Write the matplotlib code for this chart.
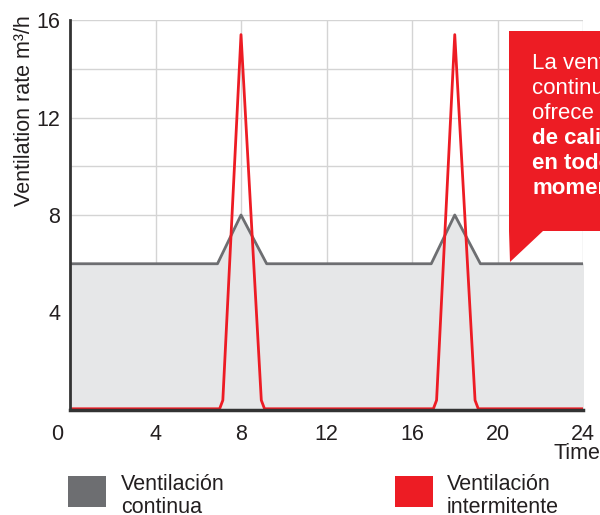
import matplotlib
matplotlib.use("Agg")
import matplotlib.pyplot as plt
import matplotlib.transforms as mtransforms
from matplotlib.patches import Polygon, Rectangle

plt.rcParams['font.family'] = ['Liberation Sans', 'DejaVu Sans']

# datos
cont_hours = [0, 6.9, 8.0, 9.2, 16.9, 18.0, 19.2, 24]
cont_rate = [6, 6, 8, 6, 6, 8, 6, 6]

int_hours = [0, 7.0, 7.15, 8.0, 8.95, 9.1, 17.0, 17.15, 18.0, 18.95, 19.1, 24]
int_rate = [0.05, 0.05, 0.4, 15.4, 0.4, 0.05, 0.05, 0.4, 15.4, 0.4, 0.05, 0.05]

xticks = [0, 4, 8, 12, 16, 20, 24]
yticks = [4, 8, 12, 16]

callout_lines = ["La ventilación", "continua", "ofrece aire",
                 "de calidad", "en todo", "momento"]
callout_bold = [False, False, False, True, True, True]

RED = '#ed1c24'
GREY = '#6d6e71'
FILL = '#e6e7e8'
TXT = '#231f20'
FS = 15.5

W, H = 600, 515
fig = plt.figure(figsize=(W / 100, H / 100), dpi=100)


def px(x, y):
    # píxel -> fracción de figura
    return (x / W, 1 - y / H)


ax = fig.add_axes([70 / W, 1 - 410 / H, 513 / W, 390 / H])
ax.set_xlim(0, 24)
ax.set_ylim(0, 16)

ax.fill_between(cont_hours, cont_rate, 0, color=FILL, zorder=1)
ax.plot(cont_hours, cont_rate, color=GREY, lw=2, zorder=3)
ax.plot(int_hours, int_rate, color=RED, lw=2, zorder=4, solid_joinstyle='round')

ax.set_xticks(xticks)
ax.set_yticks(yticks)
ax.set_yticks([2, 6, 10, 14], minor=True)
ax.grid(True, which='both', color='#d4d4d4', lw=1, zorder=0)
ax.set_axisbelow(True)
ax.tick_params(which='both', length=0, labelsize=FS, colors=TXT)
ax.tick_params(axis='x', pad=10)
ax.tick_params(axis='y', pad=7)
for s in ['top', 'right']:
    ax.spines[s].set_visible(False)
for s in ['left', 'bottom']:
    ax.spines[s].set_color('#333333')
    ax.spines[s].set_zorder(5)
ax.spines['left'].set_linewidth(2)
ax.spines['bottom'].set_linewidth(2.5)

# el "0" del eje x está desplazado a la izquierda
lbl0 = ax.get_xticklabels()[0]
lbl0.set_transform(lbl0.get_transform() +
                   mtransforms.ScaledTranslation(-13 / 100, 0, fig.dpi_scale_trans))

fig.text(*px(25, 15), "Ventilation rate m³/h", rotation=90, ha='center',
         va='top', fontsize=FS, color=TXT)
fig.text(*px(553, 459), "Time", ha='left', va='baseline', fontsize=FS, color=TXT)

# bocadillo rojo
pts = [px(509, 31), px(640, 31), px(640, 231), px(543, 231), px(510, 262), px(509, 231)]
fig.patches.append(Polygon(pts, closed=True, transform=fig.transFigure,
                           facecolor=RED, edgecolor='none', zorder=10))
for i, (line, bold) in enumerate(zip(callout_lines, callout_bold)):
    fig.text(*px(532, 69 + 25 * i), line, ha='left', va='baseline', fontsize=16,
             color='white', fontweight='bold' if bold else 'normal', zorder=11)

# leyenda
fig.patches.append(Rectangle(px(68, 507), 38 / W, 31 / H, transform=fig.transFigure,
                             facecolor=GREY, edgecolor='none'))
fig.text(*px(121, 490), "Ventilación", ha='left', va='baseline',
         fontsize=FS, color=TXT)
fig.text(*px(121, 513), "continua", ha='left', va='baseline',
         fontsize=FS, color=TXT)
fig.patches.append(Rectangle(px(395, 507), 38 / W, 31 / H, transform=fig.transFigure,
                             facecolor=RED, edgecolor='none'))
fig.text(*px(447, 490), "Ventilación", ha='left', va='baseline',
         fontsize=FS, color=TXT)
fig.text(*px(447, 513), "intermitente", ha='left', va='baseline',
         fontsize=FS, color=TXT)

fig.savefig("out.png", dpi=100)
